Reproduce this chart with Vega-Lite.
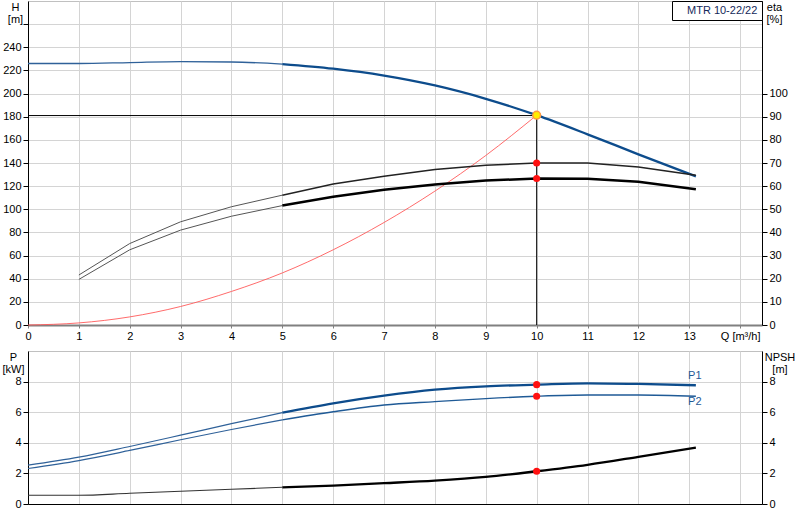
{
  "$schema": "https://vega.github.io/schema/vega-lite/v6.json",
  "description": "Pump performance curves for MTR 10-22/22: head, efficiency, power and NPSH against flow.",
  "padding": {"left": 1, "top": 0, "right": 0, "bottom": 0},
  "spacing": 26,
  "bounds": "flush",
  "datasets": {
    "head": [
      {"Q": 0, "H": 226, "zone": "low"},
      {"Q": 1, "H": 226, "zone": "low"},
      {"Q": 2, "H": 226.8, "zone": "low"},
      {"Q": 3, "H": 227.6, "zone": "low"},
      {"Q": 4, "H": 227.3, "zone": "low"},
      {"Q": 5, "H": 225.5, "zone": "low"},
      {"Q": 5, "H": 225.5, "zone": "main"},
      {"Q": 6, "H": 221.5, "zone": "main"},
      {"Q": 7, "H": 215.5, "zone": "main"},
      {"Q": 8, "H": 207, "zone": "main"},
      {"Q": 9, "H": 195.5, "zone": "main"},
      {"Q": 10, "H": 181.3, "zone": "main"},
      {"Q": 11, "H": 164.8, "zone": "main"},
      {"Q": 12, "H": 147.5, "zone": "main"},
      {"Q": 13.13, "H": 128.5, "zone": "main"}
    ],
    "system": [
      {"Q": 0, "H": 0},
      {"Q": 1, "H": 1.8},
      {"Q": 2, "H": 7},
      {"Q": 3, "H": 16},
      {"Q": 4, "H": 29},
      {"Q": 5, "H": 45},
      {"Q": 6, "H": 65},
      {"Q": 7, "H": 88.6},
      {"Q": 8, "H": 115.7},
      {"Q": 9, "H": 146.5},
      {"Q": 10, "H": 181.3}
    ],
    "duty_lines": [
      {"Q": 0, "Q2": 10, "H": 181, "H2": 181},
      {"Q": 10, "Q2": 10, "H": 0, "H2": 181}
    ],
    "duty_head": [{"Q": 10, "H": 181.3}],
    "eta": [
      {"Q": 1, "eta": 21.6, "curve": "pump", "zone": "low"},
      {"Q": 2, "eta": 35.2, "curve": "pump", "zone": "low"},
      {"Q": 3, "eta": 44.6, "curve": "pump", "zone": "low"},
      {"Q": 4, "eta": 51.1, "curve": "pump", "zone": "low"},
      {"Q": 5, "eta": 56.1, "curve": "pump", "zone": "low"},
      {"Q": 5, "eta": 56.1, "curve": "pump", "zone": "main"},
      {"Q": 6, "eta": 60.9, "curve": "pump", "zone": "main"},
      {"Q": 7, "eta": 64.3, "curve": "pump", "zone": "main"},
      {"Q": 8, "eta": 67.2, "curve": "pump", "zone": "main"},
      {"Q": 9, "eta": 69, "curve": "pump", "zone": "main"},
      {"Q": 10, "eta": 70, "curve": "pump", "zone": "main"},
      {"Q": 11, "eta": 70, "curve": "pump", "zone": "main"},
      {"Q": 12, "eta": 68.3, "curve": "pump", "zone": "main"},
      {"Q": 13.13, "eta": 64.7, "curve": "pump", "zone": "main"},
      {"Q": 1, "eta": 19.7, "curve": "total", "zone": "low"},
      {"Q": 2, "eta": 32.5, "curve": "total", "zone": "low"},
      {"Q": 3, "eta": 41, "curve": "total", "zone": "low"},
      {"Q": 4, "eta": 47, "curve": "total", "zone": "low"},
      {"Q": 5, "eta": 51.6, "curve": "total", "zone": "low"},
      {"Q": 5, "eta": 51.6, "curve": "total", "zone": "main"},
      {"Q": 6, "eta": 55.4, "curve": "total", "zone": "main"},
      {"Q": 7, "eta": 58.4, "curve": "total", "zone": "main"},
      {"Q": 8, "eta": 60.7, "curve": "total", "zone": "main"},
      {"Q": 9, "eta": 62.4, "curve": "total", "zone": "main"},
      {"Q": 10, "eta": 63.3, "curve": "total", "zone": "main"},
      {"Q": 11, "eta": 63.2, "curve": "total", "zone": "main"},
      {"Q": 12, "eta": 61.9, "curve": "total", "zone": "main"},
      {"Q": 13.13, "eta": 58.7, "curve": "total", "zone": "main"}
    ],
    "duty_eta": [{"Q": 10, "eta": 70}, {"Q": 10, "eta": 63.3}],
    "power": [
      {"Q": 0, "P": 2.54, "curve": "P1", "zone": "low"},
      {"Q": 1, "P": 3.06, "curve": "P1", "zone": "low"},
      {"Q": 2, "P": 3.76, "curve": "P1", "zone": "low"},
      {"Q": 3, "P": 4.5, "curve": "P1", "zone": "low"},
      {"Q": 4, "P": 5.25, "curve": "P1", "zone": "low"},
      {"Q": 5, "P": 5.97, "curve": "P1", "zone": "low"},
      {"Q": 5, "P": 5.97, "curve": "P1", "zone": "main"},
      {"Q": 6, "P": 6.58, "curve": "P1", "zone": "main"},
      {"Q": 7, "P": 7.08, "curve": "P1", "zone": "main"},
      {"Q": 8, "P": 7.47, "curve": "P1", "zone": "main"},
      {"Q": 9, "P": 7.69, "curve": "P1", "zone": "main"},
      {"Q": 10, "P": 7.8, "curve": "P1", "zone": "main"},
      {"Q": 11, "P": 7.89, "curve": "P1", "zone": "main"},
      {"Q": 12, "P": 7.85, "curve": "P1", "zone": "main"},
      {"Q": 13.13, "P": 7.76, "curve": "P1", "zone": "main"},
      {"Q": 0, "P": 2.32, "curve": "P2", "zone": "low"},
      {"Q": 1, "P": 2.84, "curve": "P2", "zone": "low"},
      {"Q": 2, "P": 3.5, "curve": "P2", "zone": "low"},
      {"Q": 3, "P": 4.2, "curve": "P2", "zone": "low"},
      {"Q": 4, "P": 4.87, "curve": "P2", "zone": "low"},
      {"Q": 5, "P": 5.5, "curve": "P2", "zone": "low"},
      {"Q": 5, "P": 5.5, "curve": "P2", "zone": "main"},
      {"Q": 6, "P": 6.03, "curve": "P2", "zone": "main"},
      {"Q": 7, "P": 6.47, "curve": "P2", "zone": "main"},
      {"Q": 8, "P": 6.69, "curve": "P2", "zone": "main"},
      {"Q": 9, "P": 6.89, "curve": "P2", "zone": "main"},
      {"Q": 10, "P": 7.04, "curve": "P2", "zone": "main"},
      {"Q": 11, "P": 7.12, "curve": "P2", "zone": "main"},
      {"Q": 12, "P": 7.12, "curve": "P2", "zone": "main"},
      {"Q": 13.13, "P": 7.04, "curve": "P2", "zone": "main"}
    ],
    "power_labels": [
      {"Q": 13.11, "P": 8.36, "label": "P1"},
      {"Q": 13.11, "P": 6.64, "label": "P2"}
    ],
    "duty_power": [{"Q": 10, "P": 7.8}, {"Q": 10, "P": 7.04}],
    "npsh": [
      {"Q": 0, "NPSH": 0.57, "zone": "low"},
      {"Q": 1, "NPSH": 0.57, "zone": "low"},
      {"Q": 2, "NPSH": 0.7, "zone": "low"},
      {"Q": 3, "NPSH": 0.83, "zone": "low"},
      {"Q": 4, "NPSH": 0.96, "zone": "low"},
      {"Q": 5, "NPSH": 1.09, "zone": "low"},
      {"Q": 5, "NPSH": 1.09, "zone": "main"},
      {"Q": 6, "NPSH": 1.2, "zone": "main"},
      {"Q": 7, "NPSH": 1.36, "zone": "main"},
      {"Q": 8, "NPSH": 1.53, "zone": "main"},
      {"Q": 9, "NPSH": 1.77, "zone": "main"},
      {"Q": 10, "NPSH": 2.14, "zone": "main"},
      {"Q": 11, "NPSH": 2.56, "zone": "main"},
      {"Q": 12, "NPSH": 3.08, "zone": "main"},
      {"Q": 13.13, "NPSH": 3.69, "zone": "main"}
    ],
    "duty_npsh": [{"Q": 10, "NPSH": 2.14}]
  },
  "vconcat": [
    {
      "width": 734,
      "height": 324,
      "encoding": {
        "x": {
          "field": "Q",
          "type": "quantitative",
          "scale": {"domain": [0, 14.43], "nice": false, "zero": false},
          "axis": {
            "title": null,
            "values": [0, 1, 2, 3, 4, 5, 6, 7, 8, 9, 10, 11, 12, 13, 14],
            "labelExpr": "datum.value == 14 ? 'Q [m³/h]' : datum.label",
            "labelOverlap": false,
            "labelFlush": false,
            "grid": true,
            "domainColor": "#808080",
            "domainWidth": 2,
            "tickColor": "#808080",
            "tickSize": 3,
            "labelPadding": 2
          }
        }
      },
      "layer": [
        {
          "encoding": {
            "y": {
              "field": "H",
              "type": "quantitative",
              "scale": {"domain": [0, 280], "nice": false},
              "axis": {
                "values": [0, 20, 40, 60, 80, 100, 120, 140, 160, 180, 200, 220, 240, 260],
                "labelExpr": "datum.value > 250 ? '' : datum.label",
                "grid": true,
                "title": ["H", "[m]"],
                "titleAngle": 0,
                "titleAlign": "center",
                "titleBaseline": "top",
                "titleX": -13,
                "titleY": 0
              }
            }
          },
          "layer": [
            {
              "data": {"name": "system"},
              "mark": {"type": "line", "color": "#ff5a5a", "strokeWidth": 0.9, "interpolate": "monotone"}
            },
            {
              "data": {"name": "duty_lines"},
              "mark": {"type": "rule", "color": "black", "strokeWidth": 1},
              "encoding": {"x2": {"field": "Q2"}, "y2": {"field": "H2"}}
            },
            {
              "data": {"name": "head"},
              "transform": [{"filter": "datum.zone == 'low'"}],
              "mark": {"type": "line", "color": "#2f6199", "strokeWidth": 1.3, "interpolate": "monotone"}
            },
            {
              "data": {"name": "head"},
              "transform": [{"filter": "datum.zone == 'main'"}],
              "mark": {"type": "line", "color": "#0d4c8c", "strokeWidth": 2.3, "interpolate": "monotone"}
            },
            {
              "data": {"name": "duty_head"},
              "mark": {"type": "point", "filled": true, "fill": "#ffee00", "stroke": "#ff9a40", "strokeWidth": 1.5, "size": 60, "opacity": 1},
              "encoding": {
                "shape": {
                  "datum": "MTR 10-22/22",
                  "scale": {"range": ["circle"]},
                  "legend": {
                    "title": null,
                    "orient": "top-right",
                    "offset": 0,
                    "strokeColor": "black",
                    "fillColor": "white",
                    "padding": 4,
                    "symbolSize": 0,
                    "symbolOpacity": 0,
                    "labelOffset": 0,
                    "labelFontSize": 11,
                    "labelColor": "#14285a"
                  }
                }
              }
            }
          ]
        },
        {
          "encoding": {
            "y": {
              "field": "eta",
              "type": "quantitative",
              "scale": {"domain": [0, 140], "nice": false},
              "axis": {
                "orient": "right",
                "values": [0, 10, 20, 30, 40, 50, 60, 70, 80, 90, 100],
                "grid": false,
                "title": ["eta", "[%]"],
                "titleAngle": 0,
                "titleAlign": "center",
                "titleBaseline": "top",
                "titleX": 12,
                "titleY": 0
              }
            }
          },
          "layer": [
            {
              "data": {"name": "eta"},
              "transform": [{"filter": "datum.zone == 'low'"}],
              "mark": {"type": "line", "color": "#555555", "strokeWidth": 1},
              "encoding": {"detail": {"field": "curve"}}
            },
            {
              "data": {"name": "eta"},
              "transform": [{"filter": "datum.zone == 'main' && datum.curve == 'pump'"}],
              "mark": {"type": "line", "color": "#222222", "strokeWidth": 1.5}
            },
            {
              "data": {"name": "eta"},
              "transform": [{"filter": "datum.zone == 'main' && datum.curve == 'total'"}],
              "mark": {"type": "line", "color": "black", "strokeWidth": 2.5}
            },
            {
              "data": {"name": "duty_eta"},
              "mark": {"type": "circle", "color": "#ff1010", "size": 50, "opacity": 1}
            }
          ]
        }
      ],
      "resolve": {"scale": {"y": "independent"}}
    },
    {
      "width": 734,
      "height": 153,
      "encoding": {
        "x": {
          "field": "Q",
          "type": "quantitative",
          "scale": {"domain": [0, 14.43], "nice": false, "zero": false},
          "axis": {
            "title": null,
            "values": [0, 1, 2, 3, 4, 5, 6, 7, 8, 9, 10, 11, 12, 13, 14],
            "labels": false,
            "ticks": false,
            "grid": true,
            "domainColor": "black"
          }
        }
      },
      "layer": [
        {
          "encoding": {
            "y": {
              "field": "P",
              "type": "quantitative",
              "scale": {"domain": [0, 10], "nice": false},
              "axis": {
                "values": [0, 2, 4, 6, 8],
                "grid": true,
                "title": ["P", "[kW]"],
                "titleAngle": 0,
                "titleAlign": "center",
                "titleBaseline": "top",
                "titleX": -15,
                "titleY": 0
              }
            }
          },
          "layer": [
            {
              "data": {"name": "power"},
              "transform": [{"filter": "datum.zone == 'low'"}],
              "mark": {"type": "line", "color": "#2f6199", "strokeWidth": 1.2, "interpolate": "monotone"},
              "encoding": {"detail": {"field": "curve"}}
            },
            {
              "data": {"name": "power"},
              "transform": [{"filter": "datum.zone == 'main' && datum.curve == 'P1'"}],
              "mark": {"type": "line", "color": "#0d4c8c", "strokeWidth": 2.3, "interpolate": "monotone"}
            },
            {
              "data": {"name": "power"},
              "transform": [{"filter": "datum.zone == 'main' && datum.curve == 'P2'"}],
              "mark": {"type": "line", "color": "#1f5a96", "strokeWidth": 1.4, "interpolate": "monotone"}
            },
            {
              "data": {"name": "power_labels"},
              "mark": {"type": "text", "color": "#1f5a96", "fontSize": 11, "align": "center", "baseline": "middle"},
              "encoding": {"text": {"field": "label"}}
            },
            {
              "data": {"name": "duty_power"},
              "mark": {"type": "circle", "color": "#ff1010", "size": 50, "opacity": 1}
            }
          ]
        },
        {
          "encoding": {
            "y": {
              "field": "NPSH",
              "type": "quantitative",
              "scale": {"domain": [0, 10], "nice": false},
              "axis": {
                "orient": "right",
                "values": [0, 2, 4, 6, 8],
                "grid": false,
                "title": ["NPSH", "[m]"],
                "titleAngle": 0,
                "titleAlign": "center",
                "titleBaseline": "top",
                "titleX": 17.5,
                "titleY": 0
              }
            }
          },
          "layer": [
            {
              "data": {"name": "npsh"},
              "transform": [{"filter": "datum.zone == 'low'"}],
              "mark": {"type": "line", "color": "#333333", "strokeWidth": 1.1, "interpolate": "monotone"}
            },
            {
              "data": {"name": "npsh"},
              "transform": [{"filter": "datum.zone == 'main'"}],
              "mark": {"type": "line", "color": "black", "strokeWidth": 2.3, "interpolate": "monotone"}
            },
            {
              "data": {"name": "duty_npsh"},
              "mark": {"type": "circle", "color": "#ff1010", "size": 50, "opacity": 1}
            }
          ]
        }
      ],
      "resolve": {"scale": {"y": "independent"}}
    }
  ],
  "config": {
    "font": "Liberation Sans",
    "view": {"stroke": "#c0c0c0"},
    "axis": {
      "labelFont": "Liberation Sans",
      "labelFontSize": 11,
      "labelColor": "black",
      "titleFont": "Liberation Sans",
      "titleFontSize": 11,
      "titleFontWeight": "normal",
      "titleColor": "black",
      "titleLineHeight": 12,
      "domainColor": "black",
      "tickColor": "black",
      "tickSize": 5,
      "labelPadding": 2,
      "gridColor": "#d4d4d4",
      "gridWidth": 1
    },
    "legend": {"labelFont": "Liberation Sans"}
  }
}
